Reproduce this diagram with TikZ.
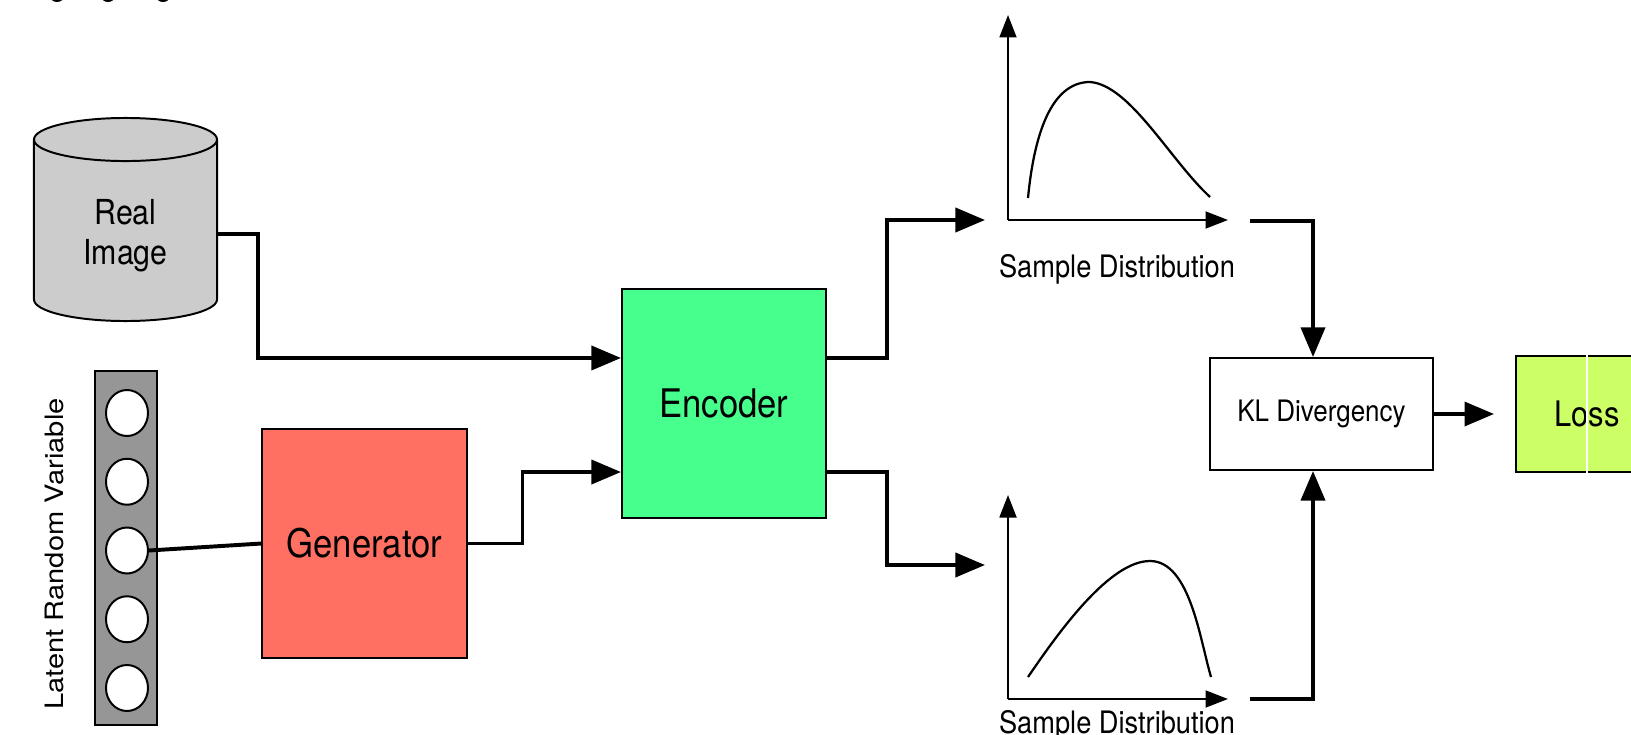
\documentclass[tikz,border=0pt]{standalone}
\usepackage{fontspec}
\setmainfont{TeX Gyre Heros}[FakeStretch=0.88]
\newfontfamily\tallfont{TeX Gyre Heros}[FakeStretch=1.15]
\usetikzlibrary{positioning, shapes.geometric, arrows.meta}

\definecolor{encgreen}{RGB}{70,255,140}
\definecolor{gensalmon}{RGB}{255,112,98}
\definecolor{losslime}{RGB}{204,255,102}

\begin{document}
\begin{tikzpicture}[
  x=0.025cm, y=-0.025cm,
  block/.style={draw, line width=1.4pt, inner sep=0, minimum width=5.1cm, minimum height=5.725cm, font=\fontsize{28}{32}\selectfont},
  conn/.style={line width=2.8pt, -{Triangle[length=21pt, width=17pt]}},
  wire/.style={line width=2.8pt},
  axis/.style={line width=1.6pt, -{Triangle[length=16pt, width=12pt]}},
  curve/.style={line width=1.6pt},
  caption/.style={font=\fontsize{22}{26}\selectfont, inner sep=0, anchor=base}
]
\useasboundingbox (0,0) rectangle (1631,735);

% bits of the row above, cut off by the page edge
\foreach \x in {57,108,163}
  \fill (\x,-4) ellipse (7 and 6);

\node[cylinder, shape border rotate=90, aspect=0.46, draw, line width=1.4pt, fill=gray!40,
  minimum width=4.575cm, minimum height=5.075cm, align=center, anchor=shape center,
  font=\fontsize{24.5}{29}\selectfont] (real) at (125.5,219.5) {\rule{0pt}{0.71cm}Real\\Image};

% latent vector
\node[draw, line width=1.4pt, fill=black!41, minimum width=1.55cm, minimum height=8.85cm] (bar) at (126,548) {};
\foreach \i in {1,...,5}
  \node[ellipse, draw, line width=1.4pt, fill=white, minimum width=1.05cm, minimum height=1.15cm, inner sep=0]
    (z\i) at (127,{413+68.75*(\i-1)}) {};
\node[rotate=90, inner sep=0, font=\tallfont\fontsize{18}{20}\selectfont] (zlabel) at (54,554) {Latent Random Variable};

\node[block, fill=gensalmon] (gen) at (364.5,543.5) {Generator};
\node[block, fill=encgreen] (enc) at (724,403.5) {Encoder};

\node[draw, line width=1.4pt, minimum width=5.575cm, minimum height=2.8cm, font=\fontsize{21}{25}\selectfont] (kl) at (1321.5,414) {KL Divergency};
\node[draw, line width=1.4pt, fill=losslime, minimum width=3.55cm, minimum height=2.9cm,
  font=\fontsize{25}{30}\selectfont, right=2.025cm of kl] (loss) {Loss};
\draw[white, line width=0.8pt] (loss.north) -- (loss.south);

\draw[wire] (z3.east) -- (gen.west);
\draw[conn] (real.east) -- ++(40,0) |- ([yshift=1.1375cm]enc.west);
\draw[conn] (gen.east) -- ++(55,0) |- ([yshift=-1.7125cm]enc.west);

% the two distributions
\coordinate (o1) at (1008,220);
\coordinate (o2) at (1008,699);
\draw[axis] (o1) -- ++(0,-205);
\draw[axis] (o1) -- ++(220,0);
\draw[curve] (1028,198) .. controls (1035,125) and (1055,82) .. (1090,82)
  .. controls (1130,85) and (1170,160) .. (1210,197);
\node[caption] (cap1) at (1117,277) {Sample Distribution};

\draw[axis] (o2) -- ++(0,-204);
\draw[axis] (o2) -- ++(220,0);
\draw[curve] (1028,677) .. controls (1060,630) and (1110,561) .. (1150,561)
  .. controls (1190,561) and (1200,640) .. (1211,677);
\node[caption] (cap2) at (1117,733) {Sample Distribution};

\coordinate (in1) at (985,220);
\coordinate (in2) at (985,565);
\draw[conn] ([yshift=1.1375cm]enc.east) -- ++(60,0) |- (in1);
\draw[conn] ([yshift=-1.7125cm]enc.east) -- ++(60,0) |- (in2);

\coordinate (out1) at (1250,221);
\coordinate (out2) at (1250,699);
\draw[conn] (out1) -| ([xshift=-0.2125cm]kl.north);
\draw[conn] (out2) -| ([xshift=-0.2125cm]kl.south);
\draw[conn] (kl.east) -- ([xshift=-0.525cm]loss.west);

\end{tikzpicture}
\end{document}
